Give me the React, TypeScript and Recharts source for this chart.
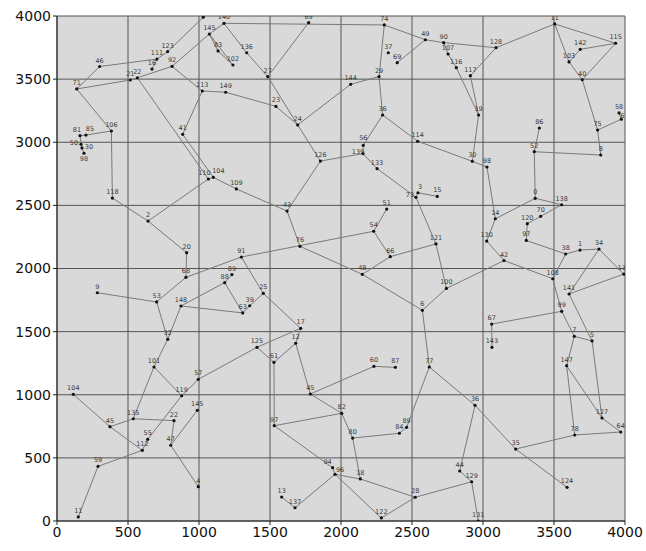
import React from 'react';
import { ScatterChart, Scatter, XAxis, YAxis, CartesianGrid } from 'recharts';

// node id, label shown, x, y
const nodes = [
  { id: '71', label: '71', x: 139, y: 3422 },
  { id: '46', label: '46', x: 300, y: 3600 },
  { id: '111', label: '111', x: 704, y: 3659 },
  { id: '123', label: '123', x: 779, y: 3718 },
  { id: '16', label: '16', x: 669, y: 3580 },
  { id: '92', label: '92', x: 810, y: 3601 },
  { id: '21', label: '21', x: 516, y: 3493 },
  { id: '22', label: '22', x: 566, y: 3511 },
  { id: '106', label: '106', x: 383, y: 3089 },
  { id: '81', label: '81', x: 162, y: 3052 },
  { id: '85', label: '85', x: 204, y: 3057 },
  { id: '50', label: '50', x: 169, y: 2984 },
  { id: '30a', label: '30', x: 176, y: 2955 },
  { id: '98a', label: '98', x: 190, y: 2913 },
  { id: '41', label: '41', x: 885, y: 3063 },
  { id: '79', label: '79', x: 1030, y: 3990 },
  { id: '140', label: '140', x: 1176, y: 3942 },
  { id: '145', label: '145', x: 1073, y: 3857 },
  { id: '83', label: '83', x: 1134, y: 3723 },
  { id: '102', label: '102', x: 1239, y: 3612 },
  { id: '136', label: '136', x: 1336, y: 3709 },
  { id: '27', label: '27', x: 1484, y: 3520 },
  { id: '89', label: '69', x: 1772, y: 3947 },
  { id: '113', label: '113', x: 1023, y: 3406 },
  { id: '149', label: '149', x: 1188, y: 3396 },
  { id: '23', label: '23', x: 1542, y: 3284 },
  { id: '24', label: '24', x: 1695, y: 3137 },
  { id: '126', label: '126', x: 1855, y: 2851 },
  { id: '110', label: '110', x: 1066, y: 2709 },
  { id: '104', label: '104', x: 1101, y: 2722 },
  { id: '109', label: '109', x: 1263, y: 2630 },
  { id: '74', label: '74', x: 2305, y: 3929 },
  { id: '37', label: '37', x: 2333, y: 3709 },
  { id: '69', label: '69', x: 2396, y: 3630 },
  { id: '49', label: '49', x: 2594, y: 3812 },
  { id: '90', label: '90', x: 2723, y: 3789 },
  { id: '107', label: '107', x: 2754, y: 3699 },
  { id: '116', label: '116', x: 2812, y: 3591 },
  { id: '117', label: '117', x: 2911, y: 3527 },
  { id: '29', label: '29', x: 2268, y: 3520 },
  { id: '144', label: '144', x: 2068, y: 3459 },
  { id: '36', label: '36', x: 2293, y: 3216 },
  { id: '19', label: '19', x: 2969, y: 3216 },
  { id: '114', label: '114', x: 2540, y: 3008 },
  { id: '56', label: '56', x: 2157, y: 2976 },
  { id: '139', label: '139', x: 2155, y: 2910 },
  { id: '133', label: '133', x: 2254, y: 2791 },
  { id: '30', label: '30', x: 2925, y: 2849 },
  { id: '98', label: '98', x: 3028, y: 2804 },
  { id: '128', label: '128', x: 3092, y: 3749 },
  { id: '11', label: '11', x: 3505, y: 3937 },
  { id: '115', label: '115', x: 3934, y: 3784 },
  { id: '142', label: '142', x: 3685, y: 3736 },
  { id: '103', label: '103', x: 3606, y: 3636 },
  { id: '40', label: '40', x: 3699, y: 3495 },
  { id: '58', label: '58', x: 3958, y: 3232 },
  { id: '62', label: '62', x: 3974, y: 3182 },
  { id: '75', label: '75', x: 3807, y: 3097 },
  { id: '86', label: '86', x: 3397, y: 3113 },
  { id: '52', label: '52', x: 3361, y: 2925 },
  { id: '8', label: '8', x: 3829, y: 2899 },
  { id: '118', label: '118', x: 390, y: 2558 },
  { id: '2', label: '2', x: 641, y: 2376 },
  { id: '20', label: '20', x: 913, y: 2125 },
  { id: '68', label: '68', x: 908, y: 1930 },
  { id: '9', label: '9', x: 284, y: 1808 },
  { id: '53', label: '53', x: 702, y: 1735 },
  { id: '148', label: '148', x: 873, y: 1703 },
  { id: '32', label: '32', x: 780, y: 1439 },
  { id: '43', label: '43', x: 1620, y: 2455 },
  { id: '76', label: '76', x: 1711, y: 2176 },
  { id: '91', label: '91', x: 1298, y: 2091 },
  { id: '99b', label: '89', x: 1232, y: 1952 },
  { id: '88', label: '88', x: 1181, y: 1888 },
  { id: '25', label: '25', x: 1453, y: 1803 },
  { id: '39', label: '39', x: 1357, y: 1705 },
  { id: '63', label: '63', x: 1308, y: 1648 },
  { id: '17', label: '17', x: 1716, y: 1526 },
  { id: '125', label: '125', x: 1408, y: 1376 },
  { id: '12', label: '12', x: 1681, y: 1408 },
  { id: '3', label: '3', x: 2542, y: 2600 },
  { id: '73', label: '73', x: 2528, y: 2564 },
  { id: '15', label: '15', x: 2678, y: 2571 },
  { id: '51', label: '51', x: 2322, y: 2471 },
  { id: '54', label: '54', x: 2230, y: 2295 },
  { id: '66', label: '66', x: 2347, y: 2094 },
  { id: '121', label: '121', x: 2669, y: 2195 },
  { id: '48', label: '48', x: 2150, y: 1954 },
  { id: '100', label: '100', x: 2742, y: 1842 },
  { id: '6', label: '6', x: 2573, y: 1669 },
  { id: '130', label: '130', x: 3026, y: 2217 },
  { id: '0', label: '0', x: 3368, y: 2556 },
  { id: '138', label: '138', x: 3554, y: 2505 },
  { id: '70', label: '70', x: 3406, y: 2413 },
  { id: '120', label: '120', x: 3312, y: 2355 },
  { id: '97', label: '97', x: 3305, y: 2222 },
  { id: '14', label: '14', x: 3087, y: 2394 },
  { id: '42', label: '42', x: 3148, y: 2063 },
  { id: '38', label: '38', x: 3582, y: 2115 },
  { id: '1', label: '1', x: 3683, y: 2146 },
  { id: '34', label: '34', x: 3817, y: 2154 },
  { id: '132', label: '132', x: 3991, y: 1956 },
  { id: '108', label: '108', x: 3491, y: 1919 },
  { id: '141', label: '141', x: 3606, y: 1798 },
  { id: '99', label: '99', x: 3554, y: 1661 },
  { id: '67', label: '67', x: 3061, y: 1560 },
  { id: '143', label: '143', x: 3063, y: 1376 },
  { id: '7', label: '7', x: 3643, y: 1463 },
  { id: '5', label: '5', x: 3768, y: 1426 },
  { id: '104b', label: '104', x: 115, y: 1003 },
  { id: '101', label: '101', x: 683, y: 1220 },
  { id: '119', label: '119', x: 878, y: 992 },
  { id: '57', label: '57', x: 995, y: 1122 },
  { id: '45', label: '45', x: 373, y: 747 },
  { id: '135', label: '135', x: 537, y: 810 },
  { id: '22b', label: '22', x: 824, y: 795 },
  { id: '55', label: '55', x: 639, y: 647 },
  { id: '112', label: '112', x: 601, y: 560 },
  { id: '47', label: '47', x: 801, y: 600 },
  { id: '146', label: '145', x: 988, y: 877 },
  { id: '4', label: '4', x: 995, y: 272 },
  { id: '59', label: '59', x: 289, y: 433 },
  { id: '11b', label: '11', x: 150, y: 32 },
  { id: '61', label: '61', x: 1528, y: 1257 },
  { id: '45b', label: '45', x: 1784, y: 1006 },
  { id: '82', label: '82', x: 2005, y: 853 },
  { id: '97b', label: '97', x: 1530, y: 755 },
  { id: '94', label: '94', x: 1941, y: 422 },
  { id: '96', label: '96', x: 1958, y: 370 },
  { id: '13', label: '13', x: 1582, y: 190 },
  { id: '137', label: '137', x: 1676, y: 105 },
  { id: '60', label: '60', x: 2232, y: 1225 },
  { id: '87', label: '87', x: 2383, y: 1217 },
  { id: '77', label: '77', x: 2622, y: 1220 },
  { id: '36b', label: '36', x: 2944, y: 916 },
  { id: '80', label: '80', x: 2082, y: 657 },
  { id: '84', label: '84', x: 2411, y: 695 },
  { id: '89c', label: '89', x: 2462, y: 742 },
  { id: '44', label: '44', x: 2836, y: 396 },
  { id: '129', label: '129', x: 2920, y: 311 },
  { id: '18', label: '18', x: 2136, y: 333 },
  { id: '28', label: '28', x: 2523, y: 188 },
  { id: '122', label: '122', x: 2284, y: 24 },
  { id: '131', label: '131', x: 2967, y: 0 },
  { id: '147', label: '147', x: 3589, y: 1230 },
  { id: '127', label: '127', x: 3838, y: 816 },
  { id: '64', label: '64', x: 3970, y: 705 },
  { id: '78', label: '78', x: 3646, y: 681 },
  { id: '35', label: '35', x: 3230, y: 570 },
  { id: '124', label: '124', x: 3592, y: 267 },
];

// connected chains of node ids
const routes = [
  ['16', '111', '46', '71', '106', '118', '2', '20', '68', '53', '9'],
  ['111', '123', '79'],
  ['71', '21', '22', '92', '145', '140', '136', '27', '24', '23', '149', '113', '92'],
  ['145', '83', '102', '145'],
  ['140', '74'],
  ['89', '27'],
  ['113', '41', '104'],
  ['22', '110', '104', '109'],
  ['2', '110'],
  ['109', '43', '126', '24', '144', '29', '74', '49', '90', '128', '11', '115', '142', '103', '11'],
  ['103', '40', '115'],
  ['40', '75', '8', '52', '86'],
  ['75', '62', '58'],
  ['52', '0', '14', '98', '30', '19', '116', '107', '90'],
  ['19', '117', '128'],
  ['30', '114', '36', '29'],
  ['36', '56', '139', '126'],
  ['139', '133', '73', '3', '15'],
  ['73', '121', '66', '54', '51'],
  ['54', '91', '68'],
  ['66', '48', '76', '43'],
  ['48', '6', '100', '121'],
  ['100', '42', '130', '14'],
  ['42', '108', '38', '97', '120', '70', '138', '0'],
  ['38', '1', '34', '132', '141', '34'],
  ['108', '99', '67', '143'],
  ['99', '7', '5', '141'],
  ['7', '147', '78', '64', '127', '147'],
  ['5', '127'],
  ['78', '35', '124'],
  ['35', '36b', '44', '129', '131'],
  ['129', '28', '122', '96'],
  ['28', '18', '96', '137', '13'],
  ['18', '80', '82', '45b', '60', '87'],
  ['82', '97b', '61', '125', '17', '12', '61'],
  ['97b', '94', '96'],
  ['80', '84', '89c', '77', '36b'],
  ['77', '6'],
  ['12', '45b'],
  ['91', '25', '17'],
  ['25', '39', '63', '88', '99b'],
  ['63', '148', '88'],
  ['148', '32', '53'],
  ['32', '101', '119', '57', '125'],
  ['119', '55', '112', '45', '104b'],
  ['45', '135', '101'],
  ['135', '22b', '47', '146'],
  ['47', '4'],
  ['112', '59', '11b'],
  ['106', '85', '81', '50', '30a', '98a'],
  ['69', '49'],
];

const ticks = [0, 500, 1000, 1500, 2000, 2500, 3000, 3500, 4000];

// label nudges (px) where labels crowd each other
const labelShift: Record<string, [number, number]> = {
  '110': [-4, 0],
  '104': [5, 0],
  '81': [-3, 0],
  '85': [4, 0],
  '50': [-7, 5],
  '30a': [7, 5],
  '98a': [0, 12],
  '73': [-6, 4],
  '3': [2, 0],
  '56': [0, -1],
  '139': [-5, 4],
  '62': [3, 3],
  '94': [-5, 0],
  '96': [5, 2],
};

const byId: Record<string, any> = {};
nodes.forEach((n) => { byId[n.id] = n; });

const NodeMark = (props: any) => {
  const { cx, cy, payload } = props;
  const [dx, dy] = labelShift[payload.id] || [0, 0];
  return (
    <g>
      <circle cx={cx} cy={cy} r={1.6} fill="#111" />
      <text x={cx + dx} y={cy - 4 + dy} fontSize={6.5} textAnchor="middle" fill="#3a3a3a" fontFamily="DejaVu Sans">
        {payload.label}
      </text>
    </g>
  );
};

const App: React.FC = () => {
  return (
    <div style={{ position: 'absolute', left: 0, top: 0, background: '#fff' }}>
      <ScatterChart width={646} height={551} margin={{ top: 16, right: 21, left: 0, bottom: 0 }}>
        <CartesianGrid fill="#d9d9d9" stroke="#555" strokeOpacity={1} />
        <XAxis
          type="number"
          dataKey="x"
          domain={[0, 4000]}
          ticks={ticks}
          height={30}
          stroke="#222"
          tick={{ fill: '#111', fontSize: 14, fontFamily: 'DejaVu Sans' }}
          tickSize={4}
          allowDataOverflow
        />
        <YAxis
          type="number"
          dataKey="y"
          domain={[0, 4000]}
          ticks={ticks}
          width={57}
          stroke="#222"
          tick={{ fill: '#111', fontSize: 14, fontFamily: 'DejaVu Sans' }}
          tickSize={4}
          allowDataOverflow
        />
        {routes.map((r, i) => (
          <Scatter
            key={`r-${i}`}
            data={r.map((id) => byId[id])}
            line={{ stroke: '#7a7a7a', strokeWidth: 1 }}
            shape={() => <g />}
            isAnimationActive={false}
          />
        ))}
        <Scatter data={nodes} shape={NodeMark} isAnimationActive={false} />
      </ScatterChart>
    </div>
  );
};

export default App;
